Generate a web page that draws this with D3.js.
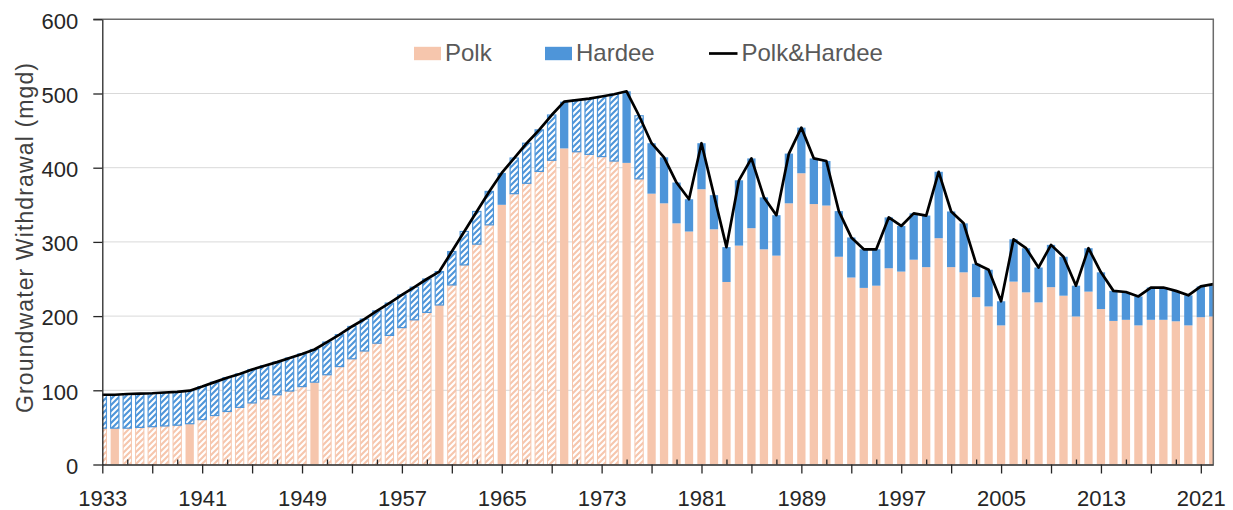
<!DOCTYPE html>
<html>
<head>
<meta charset="utf-8">
<script src="https://cdn.jsdelivr.net/npm/d3@7"></script>
<style>
  body { margin: 0; background: #fff; }
  svg { display: block; font-family: "Liberation Sans", Arial, sans-serif; }
  .grid line { stroke: #d9d9d9; stroke-width: 1; }
  .axis path, .axis line { stroke: #262626; stroke-width: 1.3; }
  .axis text { fill: #262626; font-size: 22px; }
  .legend text { fill: #595959; font-size: 24px; }
</style>
</head>
<body>
<svg id="chart"></svg>
<script>
// years shown on the x axis (one bar per year)
var years = d3.range(1933, 2023);

// Polk County withdrawal, mgd
var polk = [
  49, 49, 49, 50, 51, 52, 53, 55, 60.5, 66,
  71.5, 77, 83, 88.5, 94, 99, 105, 111, 121, 132,
  142.5, 153, 163.5, 174, 184.5, 195, 205, 215, 242, 269,
  297, 323, 350, 365, 379, 395, 410, 426, 421.5, 418,
  415, 409, 406.5, 385, 365, 352, 325, 314, 371, 317,
  246, 295, 318.5, 290, 281.5, 352, 392.5, 351, 349, 280,
  252, 238, 241, 264.5, 260, 276, 266, 305, 266, 259,
  225.5, 213, 187.5, 246.5, 232, 218.5, 239, 227.5, 199.5, 233,
  209.5, 193.5, 195, 187.5, 195, 195, 193, 187.5, 198.5, 199.5
];

// Hardee County withdrawal, mgd
var hardee = [
  45, 45, 46, 45.5, 45, 45, 45, 44.5, 44.5, 45,
  45.5, 45, 45, 44.5, 44, 44.5, 44, 44, 44, 43,
  43.5, 43, 43.5, 43.5, 44, 44, 45, 45, 45, 45,
  44, 45, 43, 48, 54, 56, 61, 63, 69.5, 75,
  81, 90, 96.5, 85, 68, 62, 55, 43.5, 62, 46,
  47, 88, 94, 70, 54.5, 67, 61.5, 61.5, 60, 61.5,
  54, 52, 49, 68.5, 61.5, 62.5, 69.5, 89.5, 75, 66,
  45, 49.5, 32.5, 57, 59.5, 47, 57, 52.5, 41.5, 58.5,
  49.5, 40.5, 37.5, 39, 43.5, 43.5, 41, 40.5, 41.5, 43.5
];

// up to this year values are estimates (hatched) except the years listed
var lastEstimatedYear = 1976;
var polkMeasuredYears = [1934, 1940, 1950, 1960, 1965, 1970, 1975];
var hardeeMeasuredYears = [1965, 1970, 1975];

var yTicks = [0, 100, 200, 300, 400, 500, 600];
var xLabels = [1933, 1941, 1949, 1957, 1965, 1973, 1981, 1989, 1997, 2005, 2013, 2021];
var seriesNames = ["Polk", "Hardee", "Polk&Hardee"];
var yTitle = "Groundwater Withdrawal (mgd)";

var colors = { polk: "#F6C6AD", hardee: "#4E95D9", line: "#000" };

var config = {
  w: 1233,
  h: 510,
  left: 102.3,
  right: 1213.3,
  top: 19.3,
  bottom: 464.5
};

var svg = d3.select("#chart")
  .attr("width", config.w)
  .attr("height", config.h);

var x = d3.scaleLinear()
  .domain([1933, 2022])
  .range([config.left, config.right]);

var y = d3.scaleLinear()
  .domain([0, 600])
  .range([config.bottom, config.top]);

var step = x(1934) - x(1933);
var barW = step * 0.665;

// hatch patterns for estimated values
var defs = svg.append("defs");
function hatch(id, color) {
  var p = defs.append("pattern")
    .attr("id", id)
    .attr("patternUnits", "userSpaceOnUse")
    .attr("width", 6)
    .attr("height", 6);
  p.append("rect").attr("width", 6).attr("height", 6).attr("fill", "#fff");
  p.append("path")
    .attr("d", "M-1,1 l2,-2 M0,6 l6,-6 M5,7 l2,-2")
    .attr("stroke", color)
    .attr("stroke-width", 2.1);
}
hatch("hatch-polk", colors.polk);
hatch("hatch-hardee", colors.hardee);

defs.append("clipPath").attr("id", "plot-clip")
  .append("rect")
  .attr("x", config.left)
  .attr("y", config.top)
  .attr("width", config.right - config.left)
  .attr("height", config.bottom - config.top);

// gridlines
svg.append("g")
  .attr("class", "grid")
  .selectAll("line")
  .data(yTicks.slice(1, -1))
  .enter().append("line")
  .attr("x1", config.left)
  .attr("x2", config.right)
  .attr("y1", function(d) { return y(d); })
  .attr("y2", function(d) { return y(d); });

var rows = years.map(function(yr, i) {
  var est = yr <= lastEstimatedYear;
  return {
    year: yr,
    polk: polk[i],
    hardee: hardee[i],
    total: polk[i] + hardee[i],
    polkEst: est && polkMeasuredYears.indexOf(yr) < 0,
    hardeeEst: est && hardeeMeasuredYears.indexOf(yr) < 0
  };
});

var bars = svg.append("g").attr("clip-path", "url(#plot-clip)");

// Polk (bottom of stack)
bars.selectAll("rect.polk")
  .data(rows)
  .enter().append("rect")
  .attr("class", "polk")
  .attr("x", function(d) { return x(d.year) - barW / 2; })
  .attr("width", barW)
  .attr("y", function(d) { return y(d.polk); })
  .attr("height", function(d) { return y(0) - y(d.polk); })
  .attr("fill", function(d) { return d.polkEst ? "url(#hatch-polk)" : colors.polk; })
  .attr("stroke", function(d) { return d.polkEst ? colors.polk : "none"; })
  .attr("stroke-width", 1);

// Hardee on top
bars.selectAll("rect.hardee")
  .data(rows)
  .enter().append("rect")
  .attr("class", "hardee")
  .attr("x", function(d) { return x(d.year) - barW / 2; })
  .attr("width", barW)
  .attr("y", function(d) { return y(d.total); })
  .attr("height", function(d) { return y(d.polk) - y(d.total); })
  .attr("fill", function(d) { return d.hardeeEst ? "url(#hatch-hardee)" : colors.hardee; })
  .attr("stroke", function(d) { return d.hardeeEst ? colors.hardee : "none"; })
  .attr("stroke-width", 1.2);

// total line
var line = d3.line()
  .x(function(d) { return x(d.year); })
  .y(function(d) { return y(d.total); });

svg.append("path")
  .datum(rows)
  .attr("d", line)
  .attr("fill", "none")
  .attr("stroke", colors.line)
  .attr("stroke-width", 2.7)
  .attr("stroke-linejoin", "round");

// frame on top and right
svg.append("path")
  .attr("d", "M" + (config.left - 9) + "," + config.top + "H" + config.right + "V" + config.bottom)
  .attr("fill", "none")
  .attr("stroke", "#6b6b6b")
  .attr("stroke-width", 1.5);

// y axis
var yAxis = svg.append("g")
  .attr("class", "axis")
  .attr("transform", "translate(" + config.left + ",0)")
  .call(d3.axisLeft(y).tickValues(yTicks).tickSize(9).tickSizeOuter(0).tickPadding(15));
yAxis.selectAll("text").attr("dy", "0.4em");

// x axis: major ticks outside every 4 years, labels every 8
var majorYears = years.filter(function(yr) { return (yr - 1933) % 4 == 0; });
var minorYears = years.filter(function(yr) { return (yr - 1933) % 4 == 2; });

svg.append("g")
  .attr("class", "axis")
  .attr("transform", "translate(0," + config.bottom + ")")
  .call(d3.axisBottom(x)
    .tickValues(majorYears)
    .tickSize(9)
    .tickSizeOuter(0)
    .tickPadding(17)
    .tickFormat(function(d) { return xLabels.indexOf(d) >= 0 ? d : ""; }));

svg.append("g")
  .attr("class", "axis")
  .attr("transform", "translate(0," + config.bottom + ")")
  .call(d3.axisBottom(x).tickValues(minorYears).tickSize(-5).tickSizeOuter(0).tickFormat(""))
  .select(".domain").remove();

// y title
svg.append("text")
  .attr("transform", "translate(25," + 238 + ") rotate(-90)")
  .attr("text-anchor", "middle")
  .attr("dy", "0.35em")
  .attr("font-size", 23)
  .attr("fill", "#404040")
  .attr("textLength", 350)
  .attr("lengthAdjust", "spacing")
  .text(yTitle);

// legend
var legendX = [414, 545, 709];
var legend = svg.append("g").attr("class", "legend");
seriesNames.forEach(function(name, i) {
  var g = legend.append("g").attr("transform", "translate(" + legendX[i] + ",53.5)");
  if (i < 2) {
    g.append("rect")
      .attr("x", 0).attr("y", -6.7)
      .attr("width", 27).attr("height", 13.4)
      .attr("fill", i == 0 ? colors.polk : colors.hardee);
  } else {
    g.append("line")
      .attr("x1", 0).attr("x2", 28.5)
      .attr("stroke", colors.line)
      .attr("stroke-width", 2.7);
  }
  g.append("text")
    .attr("x", i < 2 ? 31 : 32.5)
    .attr("y", 7.8)
    .text(name);
});
</script>
</body>
</html>
